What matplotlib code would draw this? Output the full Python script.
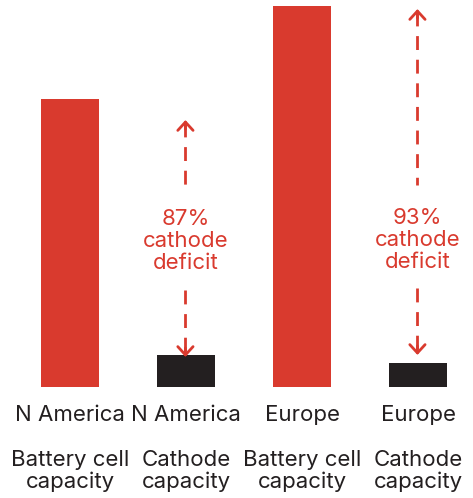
import matplotlib
matplotlib.use("Agg")
import matplotlib.pyplot as plt
from matplotlib.transforms import blended_transform_factory

regions = ["N America", "N America", "Europe", "Europe"]
measures = ["Battery cell\ncapacity", "Cathode\ncapacity", "Battery cell\ncapacity", "Cathode\ncapacity"]
values = [287.7, 31.7, 380.7, 23.7]
bar_colors = ["#d93a2e", "#231f20", "#d93a2e", "#231f20"]
deficit_labels = ["87%\ncathode\ndeficit", "93%\ncathode\ndeficit"]
deficit_bars = [1, 3]
arrow_top = [266.7, 377.7]
arrow_bottom = [29.7, 31.7]
text_y = [145.7, 146.7]
dash_upper_end = [199.7, 201.7]
dash_lower_start = [96.7, 98.7]

RED = "#d93a2e"
TEXT = "#231f20"
FONT = ["Inter", "DejaVu Sans"]
FS = 16

W, H = 473, 498
fig = plt.figure(figsize=(W / 100, H / 100), dpi=100)
bottom_px = 386.7
ax = fig.add_axes([12 / W, (H - bottom_px) / H, 458 / W, bottom_px / H])
x = list(range(len(values)))
ax.bar(x, values, width=0.5, color=bar_colors)
ax.set_xlim(-0.5, 3.448)
ax.set_ylim(0, bottom_px)
ax.axis("off")

head = "->,head_length=0.6,head_width=0.55"
for i, bi in enumerate(deficit_bars):
    xc = bi - 0.005
    ax.plot([xc, xc], [arrow_top[i] - 3, dash_upper_end[i]], color=RED, lw=2.0,
            dashes=(5, 3.5), dash_capstyle="butt")
    ax.plot([xc, xc], [dash_lower_start[i], arrow_bottom[i] + 3], color=RED, lw=2.0,
            dashes=(5, 3.5), dash_capstyle="butt")
    ax.annotate("", xy=(xc, arrow_top[i]), xytext=(xc, arrow_top[i] - 9),
                arrowprops=dict(arrowstyle=head, color=RED, lw=2.0, shrinkA=0, shrinkB=0))
    ax.annotate("", xy=(xc, arrow_bottom[i]), xytext=(xc, arrow_bottom[i] + 9),
                arrowprops=dict(arrowstyle=head, color=RED, lw=2.0, shrinkA=0, shrinkB=0))
    ax.text(xc, text_y[i], deficit_labels[i], ha="center", va="center", color=RED,
            fontsize=FS, family=FONT, linespacing=1.12)

tr = blended_transform_factory(ax.transData, ax.transAxes)
for xi, r, m in zip(x, regions, measures):
    ax.text(xi, (bottom_px - 415) / bottom_px, r, ha="center", va="center",
            color=TEXT, fontsize=FS, family=FONT, transform=tr, clip_on=False)
    ax.text(xi, (bottom_px - 471) / bottom_px, m, ha="center", va="center",
            color=TEXT, fontsize=FS, family=FONT, transform=tr, clip_on=False,
            linespacing=1.15)

fig.savefig("out.png", dpi=100)
